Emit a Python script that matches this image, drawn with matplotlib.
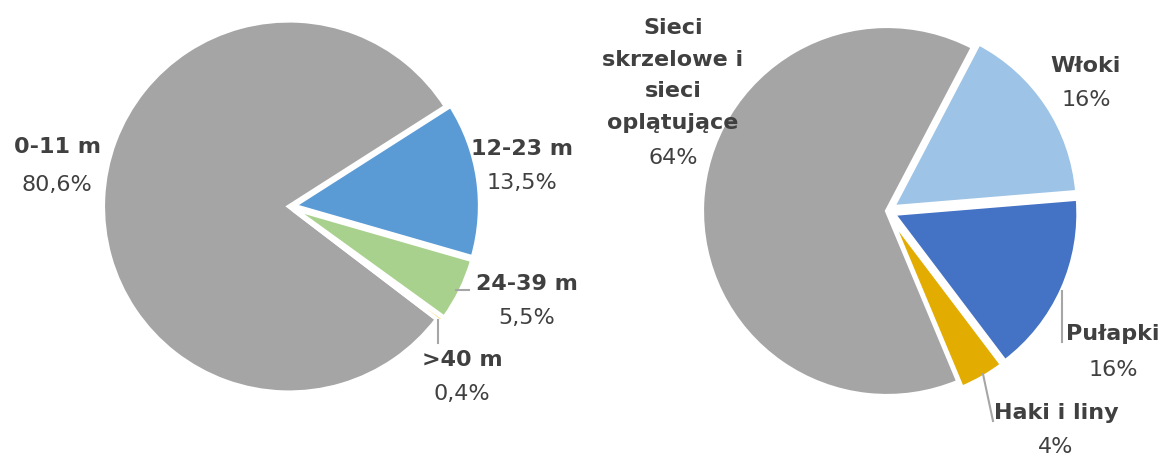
import matplotlib.pyplot as plt

# left pie: vessel length classes
len_labels = ['0-11 m', '12-23 m', '24-39 m', '>40 m']
len_share = [80.6, 13.5, 5.5, 0.4]
len_pct = ['80,6%', '13,5%', '5,5%', '0,4%']
len_colors = ['#A5A5A5', '#5B9BD5', '#A9D18E', '#FFC000']

# right pie: gear types
gear_labels = ['Sieci\nskrzelowe i\nsieci\noplątujące', 'Włoki', 'Pułapki', 'Haki i liny']
gear_share = [64, 16, 16, 4]
gear_pct = ['64%', '16%', '16%', '4%']
gear_colors = ['#A5A5A5', '#9DC3E6', '#4472C4', '#E2AC00']

W, H = 1161, 456
txt = '#404040'
plt.rcParams['font.family'] = ['DejaVu Sans']

fig = plt.figure(figsize=(W / 100, H / 100), dpi=100)
ax = fig.add_axes([0, 0, 1, 1])

# explode is in data units (pixels here)
wp = dict(edgecolor='white', linewidth=3, joinstyle='miter')
ax.pie(len_share, colors=len_colors, startangle=322.7, counterclock=False,
       center=(289, H - 207.5), radius=186, explode=[0, 5, 5, 5],
       wedgeprops=wp)
ax.pie(gear_share, colors=gear_colors, startangle=292.7, counterclock=False,
       center=(887, H - 212), radius=185, explode=[0, 7, 7, 7],
       wedgeprops=wp)

ax.set_xlim(0, W)
ax.set_ylim(0, H)
ax.set_aspect('equal')
ax.axis('off')


def label(x, y_name, y_pct, name, pct):
    ax.text(x, H - y_name, name, ha='center', va='center', fontsize=16,
            fontweight='bold', color=txt, linespacing=1.72)
    ax.text(x, H - y_pct, pct, ha='center', va='center', fontsize=16,
            color=txt)


# left labels
label(57, 147, 185, len_labels[0], len_pct[0])
label(522, 149, 183, len_labels[1], len_pct[1])
label(527, 284, 318, len_labels[2], len_pct[2])
label(462, 360, 394, len_labels[3], len_pct[3])

# right labels
label(673, 75.5, 158, gear_labels[0], gear_pct[0])
label(1086, 66, 100, gear_labels[1], gear_pct[1])
label(1113, 334, 370, gear_labels[2], gear_pct[2])
label(1056, 413, 447, gear_labels[3], gear_pct[3])

# leader lines
lc = '#A6A6A6'
ax.plot([456, 469], [H - 291, H - 291], color=lc, lw=1.5)
ax.plot([438, 438], [H - 321, H - 344], color=lc, lw=1.5)
ax.plot([1062, 1062], [H - 292, H - 343], color=lc, lw=1.5)
ax.plot([983, 993], [H - 375, H - 422], color=lc, lw=1.5)

fig.savefig('out.png', dpi=100)
